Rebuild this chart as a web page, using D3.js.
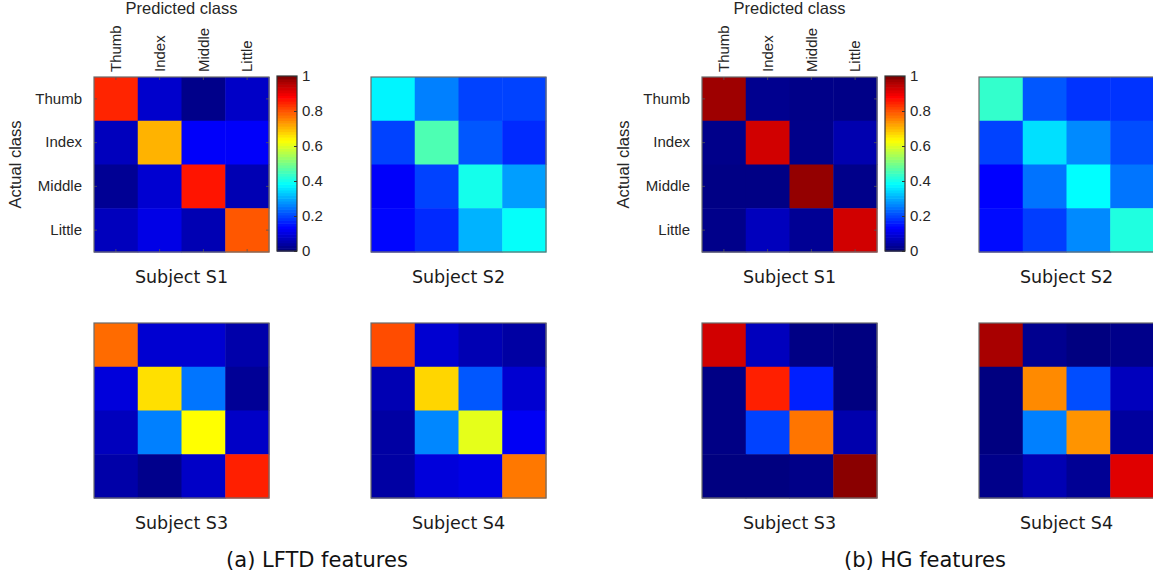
<!DOCTYPE html>
<html>
<head>
<meta charset="utf-8">
<script src="https://cdn.jsdelivr.net/npm/d3@7/dist/d3.min.js"></script>
<style>
  html, body { margin: 0; padding: 0; background: #fff; }
  svg { display: block; }
  .tick text { font-family: "Liberation Sans", Arial, sans-serif; font-size: 15px; fill: #262626; }
</style>
</head>
<body>
<svg id="chart" width="1153" height="580"></svg>
<script>
// Finger classes (rows = actual, columns = predicted)
const classes = ["Thumb", "Index", "Middle", "Little"];
const subjects = ["Subject S1", "Subject S2", "Subject S3", "Subject S4"];
const panelCaptions = ["(a) LFTD features", "(b) HG features"];
const barTicks = [0, 0.2, 0.4, 0.6, 0.8, 1];

// Normalised confusion matrices, LFTD features
const lftdS1 = [
  [0.84, 0.075, 0.01, 0.07],
  [0.06, 0.70, 0.12, 0.12],
  [0.02, 0.08, 0.855, 0.05],
  [0.06, 0.10, 0.05, 0.79]
];
const lftdS2 = [
  [0.365, 0.25, 0.19, 0.19],
  [0.19, 0.45, 0.21, 0.165],
  [0.12, 0.19, 0.395, 0.28],
  [0.13, 0.165, 0.30, 0.38]
];
const lftdS3 = [
  [0.77, 0.08, 0.08, 0.042],
  [0.09, 0.655, 0.24, 0.022],
  [0.06, 0.25, 0.625, 0.07],
  [0.04, 0.012, 0.07, 0.845]
];
const lftdS4 = [
  [0.80, 0.08, 0.05, 0.035],
  [0.05, 0.665, 0.21, 0.08],
  [0.035, 0.257, 0.60, 0.115],
  [0.035, 0.09, 0.10, 0.757]
];

// Normalised confusion matrices, HG features
const hgS1 = [
  [0.97, 0.015, 0.008, 0.007],
  [0.01, 0.92, 0.01, 0.047],
  [0.005, 0.005, 0.98, 0.01],
  [0.01, 0.06, 0.02, 0.92]
];
const hgS2 = [
  [0.425, 0.21, 0.175, 0.175],
  [0.19, 0.345, 0.26, 0.20],
  [0.125, 0.238, 0.375, 0.24],
  [0.135, 0.185, 0.26, 0.405]
];
const hgS3 = [
  [0.92, 0.06, 0.005, 0.0],
  [0.005, 0.845, 0.155, 0.0],
  [0.005, 0.19, 0.76, 0.045],
  [0.0, 0.0, 0.008, 0.99]
];
const hgS4 = [
  [0.96, 0.015, 0.0, 0.01],
  [0.0, 0.74, 0.20, 0.06],
  [0.0, 0.25, 0.73, 0.03],
  [0.01, 0.05, 0.02, 0.905]
];

const panels = [
  { caption: panelCaptions[0], mats: [lftdS1, lftdS2, lftdS3, lftdS4] },
  { caption: panelCaptions[1], mats: [hgS1, hgS2, hgS3, hgS4] }
];

// Jet colormap
function jet(v) {
  const c = x => Math.max(0, Math.min(1, x));
  const r = c(1.5 - Math.abs(4 * v - 3));
  const g = c(1.5 - Math.abs(4 * v - 2));
  const b = c(1.5 - Math.abs(4 * v - 1));
  return d3.rgb(r * 255, g * 255, b * 255).toString();
}
const color = d3.scaleSequential(jet).domain([0, 1]);

const svg = d3.select("#chart");
const size = 175;
const panelX = [94, 702];
const colX = [0, 277];
const rowY = [77, 323];
const barOffset = 183, barW = 20;

function drawMatrix(g, mat, withAxes) {
  const x = d3.scaleBand().domain(classes).range([0, size]);
  const y = d3.scaleBand().domain(classes).range([0, size]);
  const cells = [];
  mat.forEach((row, i) => row.forEach((v, j) => cells.push({ r: classes[i], c: classes[j], v })));
  g.selectAll("rect.cell").data(cells).join("rect")
    .attr("class", "cell")
    .attr("x", d => x(d.c)).attr("y", d => y(d.r))
    .attr("width", x.bandwidth() + 0.5).attr("height", y.bandwidth() + 0.5)
    .attr("fill", d => color(d.v));

  if (withAxes) {
    const left = g.append("g").call(d3.axisLeft(y).tickSizeInner(-3).tickSizeOuter(0).tickPadding(12));
    const right = g.append("g").attr("transform", `translate(${size},0)`)
      .call(d3.axisRight(y).tickSizeInner(-3).tickSizeOuter(0).tickFormat(""));
    const bottom = g.append("g").attr("transform", `translate(0,${size})`)
      .call(d3.axisBottom(x).tickSizeInner(-3).tickSizeOuter(0).tickFormat(""));
    const top = g.append("g").call(d3.axisTop(x).tickSizeInner(-3).tickSizeOuter(0));
    top.selectAll("text")
      .attr("transform", "rotate(-90)")
      .attr("x", 5).attr("y", 0).attr("dy", "0.35em")
      .style("text-anchor", "start");
    [left, right, bottom, top].forEach(a => {
      a.select(".domain").remove();
      a.selectAll("line").attr("stroke", "#555").attr("stroke-opacity", 0.8);
    });
  }

  g.append("rect")
    .attr("x", 0).attr("y", 0).attr("width", size).attr("height", size)
    .attr("fill", "none").attr("stroke", "#6b6b6b").attr("stroke-width", 1.2);
}

function drawColorbar(g) {
  const yb = d3.scaleLinear().domain([0, 1]).range([size, 0]);
  const steps = d3.range(64).map(i => i / 63);
  g.selectAll("rect.step").data(steps).join("rect")
    .attr("class", "step")
    .attr("x", 0).attr("width", barW)
    .attr("y", d => yb(Math.min(1, d + 1 / 63)))
    .attr("height", size / 63 + 0.6)
    .attr("fill", d => color(d));
  const ax = g.append("g").attr("transform", `translate(${barW},0)`)
    .call(d3.axisRight(yb).tickValues(barTicks).tickFormat(d3.format("~g")).tickSizeInner(-3).tickSizeOuter(0).tickPadding(5));
  ax.select(".domain").remove();
  ax.selectAll("line").attr("stroke", "#333");
  g.append("rect").attr("x", 0).attr("y", 0).attr("width", barW).attr("height", size)
    .attr("fill", "none").attr("stroke", "#333").attr("stroke-width", 1.2);
}

panels.forEach((p, pi) => {
  const px = panelX[pi];
  p.mats.forEach((mat, k) => {
    const cx = px + colX[k % 2];
    const cy = rowY[Math.floor(k / 2)];
    const g = svg.append("g").attr("transform", `translate(${cx},${cy})`);
    drawMatrix(g, mat, k === 0);
    g.append("text")
      .attr("x", size / 2).attr("y", size + 31)
      .attr("text-anchor", "middle")
      .style("font-family", "'DejaVu Sans', sans-serif").style("font-size", "17.5px").style("fill", "#1a1a1a")
      .text(subjects[k]);
    if (k === 0) {
      g.append("text")
        .attr("x", size / 2).attr("y", -63)
        .attr("text-anchor", "middle")
        .style("font-family", "'Liberation Sans', Arial, sans-serif").style("font-size", "16.5px").style("fill", "#262626")
        .text("Predicted class");
      g.append("text")
        .attr("transform", `translate(${-73},${size / 2}) rotate(-90)`)
        .attr("text-anchor", "middle")
        .style("font-family", "'Liberation Sans', Arial, sans-serif").style("font-size", "16.5px").style("fill", "#262626")
        .text("Actual class");
      const cb = svg.append("g").attr("transform", `translate(${cx + barOffset},${cy - 1})`);
      drawColorbar(cb);
    }
  });
  svg.append("text")
    .attr("x", px + 223).attr("y", 567)
    .attr("text-anchor", "middle")
    .style("font-family", "'DejaVu Sans', sans-serif").style("font-size", "21px").style("fill", "#111")
    .text(p.caption);
});
</script>
</body>
</html>
